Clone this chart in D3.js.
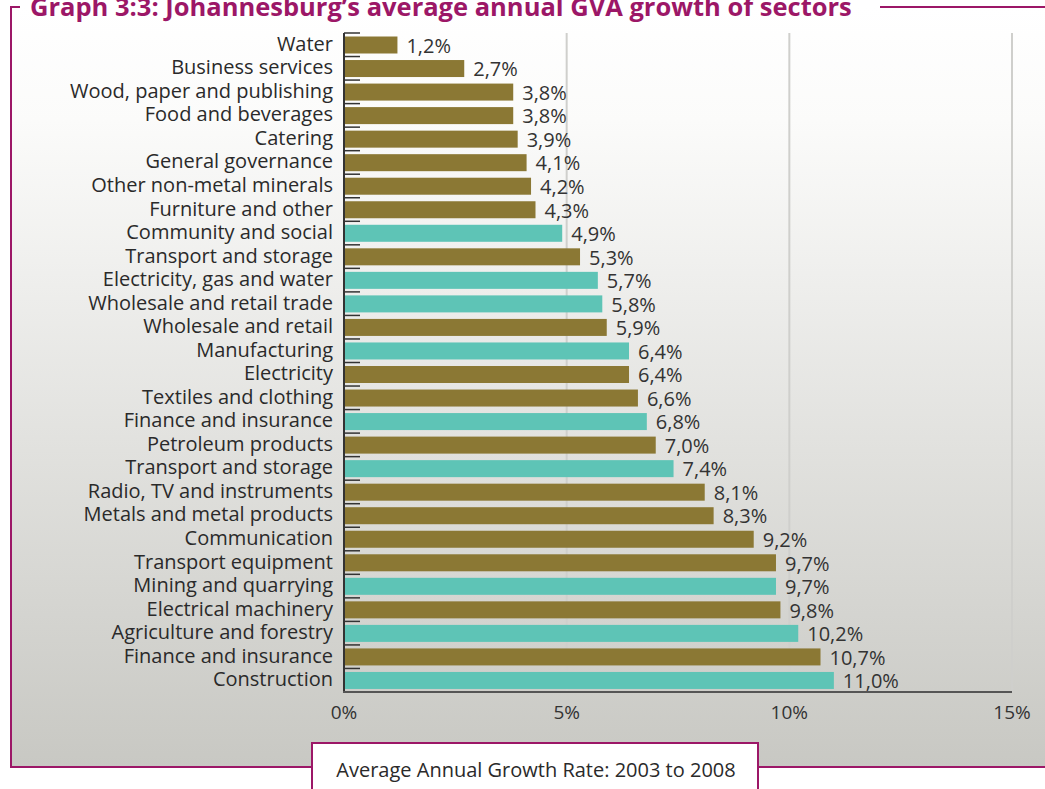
<!DOCTYPE html>
<html>
<head>
<meta charset="utf-8">
<script src="https://cdn.jsdelivr.net/npm/d3@7"></script>
<style>
  body { margin: 0; background: #fff; }
  text { font-family: "Open Sans", "Noto Sans", sans-serif; }
</style>
</head>
<body>
<div id="chart"></div>
<script>
var sectors = [
  "Water", "Business services", "Wood, paper and publishing", "Food and beverages",
  "Catering", "General governance", "Other non-metal minerals", "Furniture and other",
  "Community and social", "Transport and storage", "Electricity, gas and water",
  "Wholesale and retail trade", "Wholesale and retail", "Manufacturing", "Electricity",
  "Textiles and clothing", "Finance and insurance", "Petroleum products",
  "Transport and storage", "Radio, TV and instruments", "Metals and metal products",
  "Communication", "Transport equipment", "Mining and quarrying", "Electrical machinery",
  "Agriculture and forestry", "Finance and insurance", "Construction"
];
var growth = [1.2, 2.7, 3.8, 3.8, 3.9, 4.1, 4.2, 4.3, 4.9, 5.3, 5.7, 5.8, 5.9, 6.4, 6.4,
  6.6, 6.8, 7.0, 7.4, 8.1, 8.3, 9.2, 9.7, 9.7, 9.8, 10.2, 10.7, 11.0];
// "t" = teal group, "o" = olive group
var group = ["o", "o", "o", "o", "o", "o", "o", "o", "t", "o", "t", "t", "o", "t", "o",
  "o", "t", "o", "t", "o", "o", "o", "o", "t", "o", "t", "o", "t"];
var xTicks = [0, 5, 10, 15];

var w = 1045, h = 789;
var svg = d3.select("#chart").append("svg")
  .attr("width", w)
  .attr("height", h);

var defs = svg.append("defs");
var grad = defs.append("linearGradient")
  .attr("id", "bg")
  .attr("x1", 0).attr("y1", 0).attr("x2", 0).attr("y2", 1);
grad.append("stop").attr("offset", "0%").attr("stop-color", "#ffffff");
grad.append("stop").attr("offset", "15%").attr("stop-color", "#fbfbfa");
grad.append("stop").attr("offset", "100%").attr("stop-color", "#c8c8c3");

var magenta = "#9c1767";

// background panel + frame
svg.append("rect")
  .attr("x", 11).attr("y", 7)
  .attr("width", w).attr("height", 760)
  .attr("fill", "url(#bg)");

svg.append("path")
  .attr("d", "M20,7 H11 V767 H" + (w + 5))
  .attr("fill", "none")
  .attr("stroke", magenta)
  .attr("stroke-width", 2);
svg.append("line")
  .attr("x1", 880).attr("x2", w + 5)
  .attr("y1", 7).attr("y2", 7)
  .attr("stroke", magenta)
  .attr("stroke-width", 2);

svg.append("text")
  .attr("x", 30).attr("y", 16)
  .attr("font-size", 25.5)
  .attr("font-weight", "bold")
  .attr("fill", magenta)
  .text("Graph 3:3: Johannesburg\u2019s average annual GVA growth of sectors");

var x = d3.scaleLinear().domain([0, 15]).range([344, 1012]);
var y = d3.scaleBand().domain(d3.range(sectors.length)).range([33, 692]);

// gridlines
svg.append("g")
  .selectAll("line")
  .data(xTicks.slice(1))
  .enter()
    .append("line")
    .attr("x1", function(d) { return x(d); })
    .attr("x2", function(d) { return x(d); })
    .attr("y1", 33).attr("y2", 692)
    .style("stroke", "#cfcfcc")
    .style("stroke-width", 2);

// bars
var colors = { o: "#8b7834", t: "#5ec4b6" };
svg.append("g")
  .selectAll("rect")
  .data(growth)
  .enter()
    .append("rect")
    .attr("x", x(0) + 1)
    .attr("y", function(d, i) { return y(i) + 3.5; })
    .attr("width", function(d) { return x(d) - x(0) - 1; })
    .attr("height", 17)
    .style("fill", function(d, i) { return colors[group[i]]; });

// value labels
svg.append("g")
  .selectAll("text")
  .data(growth)
  .enter()
    .append("text")
    .attr("x", function(d) { return x(d) + 9; })
    .attr("y", function(d, i) { return y(i) + y.bandwidth() / 2 + 8; })
    .attr("font-size", 20)
    .attr("fill", "#333")
    .text(function(d) { return d.toFixed(1).replace(".", ",") + "%"; });

// category labels
svg.append("g")
  .selectAll("text")
  .data(sectors)
  .enter()
    .append("text")
    .attr("x", 333)
    .attr("y", function(d, i) { return y(i) + y.bandwidth() / 2 + 6; })
    .attr("text-anchor", "end")
    .attr("font-size", 20)
    .attr("fill", "#2a2a2a")
    .text(function(d) { return d; });

// y tick marks
svg.append("g")
  .selectAll("line")
  .data(d3.range(sectors.length))
  .enter()
    .append("line")
    .attr("x1", 344).attr("x2", 360)
    .attr("y1", function(i) { return y(i); })
    .attr("y2", function(i) { return y(i); })
    .style("stroke", "#333")
    .style("stroke-width", 1.5);

// axes lines
svg.append("line")
  .attr("x1", 344).attr("x2", 344)
  .attr("y1", 33).attr("y2", 692)
  .style("stroke", "#333").style("stroke-width", 2);
svg.append("line")
  .attr("x1", 343).attr("x2", 1012)
  .attr("y1", 692).attr("y2", 692)
  .style("stroke", "#555").style("stroke-width", 2);

// x tick labels
svg.append("g")
  .selectAll("text")
  .data(xTicks)
  .enter()
    .append("text")
    .attr("x", function(d) { return x(d); })
    .attr("y", 719)
    .attr("text-anchor", "middle")
    .attr("font-size", 19)
    .attr("fill", "#333")
    .text(function(d) { return d + "%"; });

// x axis title box
svg.append("rect")
  .attr("x", 312).attr("y", 743)
  .attr("width", 446).attr("height", 60)
  .attr("fill", "#fff")
  .attr("stroke", magenta)
  .attr("stroke-width", 2);
svg.append("text")
  .attr("x", 536).attr("y", 777)
  .attr("text-anchor", "middle")
  .attr("font-size", 20)
  .attr("fill", "#2a2a2a")
  .text("Average Annual Growth Rate: 2003 to 2008");
</script>
</body>
</html>
